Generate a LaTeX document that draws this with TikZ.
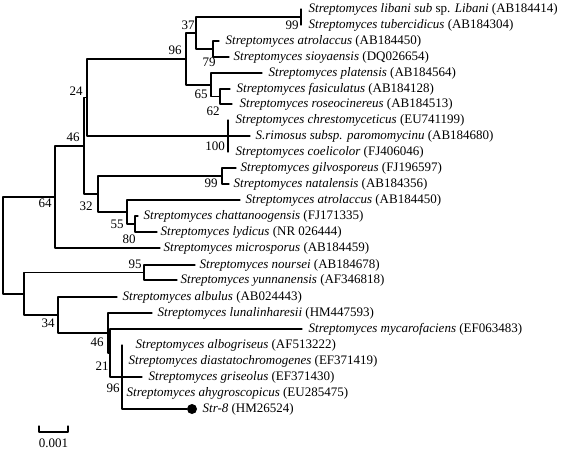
\documentclass[tikz,border=0pt]{standalone}
\usepackage{fontspec}
\setmainfont{Liberation Serif}
\begin{document}
\begin{tikzpicture}[x=1pt, y=-1pt, line cap=round, line join=round, line width=1.3pt,
	font=\fontsize{13}{15}\selectfont,
	taxon/.style={anchor=west, inner sep=0pt},
	boot/.style={inner sep=0pt}]
			\useasboundingbox (0,0) rectangle (561,450);
			
			% Internal nodes of the tree
			\coordinate (nL) at (301,17);
			\coordinate (n79) at (213,49);
			\coordinate (n37) at (196,33);
			\coordinate (n62) at (220,96.5);
			\coordinate (n65) at (211,85);
			\coordinate (n96) at (186,59);
			\coordinate (n100) at (228,136);
			\coordinate (n24) at (87,97.5);
			\coordinate (n99) at (222,176);
			\coordinate (n80) at (135,224);
			\coordinate (n55) at (127,212);
			\coordinate (n32) at (98,194);
			\coordinate (n46) at (84,146);
			\coordinate (n64) at (55,197);
			\coordinate (n95) at (144,272.5);
			\coordinate (n96b) at (122,377);
			\coordinate (n21) at (110,353);
			\coordinate (n46b) at (108,333);
			\coordinate (n34) at (58,315);
			\coordinate (nA) at (24,294);
			\coordinate (root) at (3,245.5);
			
			% Leaves: branch end and taxon name
			\foreach \n/\lx/\tx/\y/\txt in {
				1/301/308/9/{\emph{Streptomyces libani sub} sp. \emph{Libani} (AB184414)},
				2/301/308/25/{\emph{Streptomyces tubercidicus} (AB184304)},
				3/219/225/41/{\emph{Streptomyces atrolaccus} (AB184450)},
				4/229/233/57/{\emph{Streptomyces sioyaensis} (DQ026654)},
				5/262/268/73/{\emph{Streptomyces platensis} (AB184564)},
				6/230/236/89/{\emph{Streptomyces fasiculatus} (AB184128)},
				7/232/239/104/{\emph{Streptomyces roseocinereus} (AB184513)},
				8/228/235/120/{\emph{Streptomyces chrestomyceticus} (EU741199)},
				9/250/255/136/{\emph{S.rimosus subsp. paromomycinu} (AB184680)},
				10/228/235/152/{\emph{Streptomyces coelicolor} (FJ406046)},
				11/236/240/168/{\emph{Streptomyces gilvosporeus} (FJ196597)},
				12/229/233/184/{\emph{Streptomyces natalensis} (AB184356)},
				13/240/245/200/{\emph{Streptomyces atrolaccus} (AB184450)},
				14/138/143/216/{\emph{Streptomyces chattanoogensis} (FJ171335)},
				15/157/160/232/{\emph{Streptomyces lydicus} (NR 026444)},
				16/160/163/248/{\emph{Streptomyces microsporus} (AB184459)},
				17/195/199/265/{\emph{Streptomyces noursei} (AB184678)},
				18/177/180/280/{\emph{Streptomyces yunnanensis} (AF346818)},
				19/117/122/297/{\emph{Streptomyces albulus} (AB024443)},
				20/152/157/313/{\emph{Streptomyces lunalinharesii} (HM447593)},
				21/302/308/329/{\emph{Streptomyces mycarofaciens} (EF063483)},
				22/122/135/345/{\emph{Streptomyces albogriseus} (AF513222)},
				23/122/128/361/{\emph{Streptomyces diastatochromogenes} (EF371419)},
				24/142/148/377/{\emph{Streptomyces griseolus} (EF371430)},
				25/122/126/393/{\emph{Streptomyces ahygroscopicus} (EU285475)},
				26/187/202/409/{\emph{Str-8} (HM26524)}} {
				\coordinate (l\n) at (\lx,\y);
				\node[taxon] (t\n) at (\tx,\y) {\txt};
			}
			
			% Branches
			\foreach \a/\b in {nL/l1, nL/l2, n79/l3, n79/l4, n37/nL, n37/n79,
				n62/l6, n62/l7, n65/l5, n65/n62, n96/n37, n96/n65,
				n100/l8, n100/l9, n100/l10, n24/n96, n24/n100,
				n99/l11, n99/l12, n80/l14, n80/l15, n55/l13, n55/n80,
				n32/n99, n32/n55, n46/n24, n46/n32, n64/n46, n64/l16,
				root/n64, root/nA, n95/l17, n95/l18, nA/n95, nA/n34,
				n34/l19, n34/n46b, n46b/l20, n46b/n21, n21/l21, n21/n96b,
				n96b/l22, n96b/l23, n96b/l24, n96b/l25, n96b/l26} {
				\draw (\a) |- (\b);
			}
			
			% Marker of the isolate
			\node[circle, fill, inner sep=0pt, minimum size=10pt] (dot) at (192,409) {};
			
			% Bootstrap values
			\foreach \n/\x/\y/\v in {b37/188/25/37, b96/175/50/96, b79/209/62/79,
				b65/201/94/65, b62/213/111/62, b99a/292/25/99, b24/76/91/24,
				b46/73/137/46, b100/215/146/100, b99b/211/183/99, b32/86/206/32,
				b64/45/203/64, b55/117/224/55, b80/129/239/80, b95/135/264/95,
				b34/48/323/34, b46b/97/342/46, b21/102/366/21, b96b/113/388/96} {
				\node[boot] (\n) at (\x,\y) {\v};
			}
			
			% Scale bar
			\coordinate (sbA) at (39,432);
			\coordinate (sbB) at (68,432);
			\draw (sbA) ++(0,-6) -- (sbA) -- (sbB) -- ++(0,-6);
			\node[boot] (sbl) at (53.5,443) {0.001};
		\end{tikzpicture}
\end{document}
